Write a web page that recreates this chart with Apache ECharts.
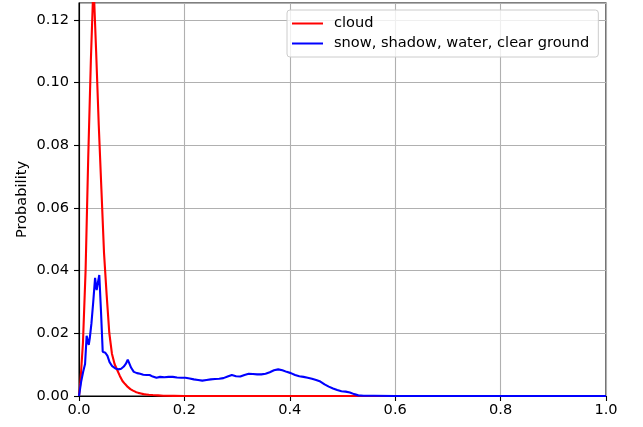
<!DOCTYPE html>
<html>
<head>
<meta charset="utf-8">
<script src="https://cdn.jsdelivr.net/npm/echarts@6/dist/echarts.min.js"></script>
<style>html,body{margin:0;padding:0;background:#fff}#c{width:643px;height:427px}</style>
</head>
<body>
<div id="c"></div>
<script>
const seriesNames = ['cloud', 'snow, shadow, water, clear ground'];
const redX = [0,0.0025,0.0075,0.0125,0.0175,0.0225,0.0275,0.0325,0.0375,0.0425,0.0475,0.0525,0.0575,0.0625,0.0675,0.0725,0.0775,0.0825,0.0875,0.0925,0.0975,0.1025,0.1075,0.1125,0.1175,0.1225,0.1275,0.1325,0.14,0.15,0.16,0.18,0.2,1.0];
const redY = [0,0.004,0.017,0.040,0.076,0.107,0.132,0.110,0.0864,0.066,0.0456,0.0322,0.0201,0.0135,0.0102,0.0083,0.0064,0.0048,0.0038,0.0029,0.0022,0.0017,0.0013,0.0010,0.0008,0.0006,0.0005,0.0004,0.0003,0.0002,0.0001,0.00005,0,0];
const blueX = [0,0.004,0.008,0.0115,0.0145,0.0165,0.0185,0.0205,0.0235,0.027,0.0305,0.0335,0.0365,0.0385,0.042,0.045,0.050,0.054,0.058,0.063,0.069,0.075,0.080,0.085,0.089,0.0925,0.0955,0.099,0.104,0.110,0.116,0.122,0.128,0.134,0.140,0.147,0.154,0.162,0.170,0.178,0.186,0.194,0.202,0.210,0.218,0.226,0.234,0.242,0.250,0.258,0.266,0.274,0.282,0.290,0.298,0.306,0.314,0.322,0.330,0.338,0.346,0.354,0.362,0.370,0.378,0.386,0.394,0.402,0.410,0.418,0.426,0.434,0.442,0.450,0.458,0.466,0.474,0.482,0.490,0.498,0.506,0.514,0.522,0.530,0.54,0.56,0.6,1.0];
const blueY = [0,0.0045,0.0078,0.0102,0.0192,0.0178,0.0163,0.0185,0.023,0.030,0.0377,0.0338,0.0368,0.0386,0.026,0.0141,0.0138,0.0128,0.0108,0.0095,0.0088,0.0085,0.0087,0.0094,0.0103,0.0116,0.0110,0.0090,0.0077,0.0073,0.0071,0.0068,0.0067,0.0067,0.0062,0.0058,0.0061,0.0060,0.0061,0.0061,0.0059,0.0058,0.0058,0.0056,0.0053,0.0051,0.0049,0.0051,0.0053,0.0054,0.0055,0.0057,0.0062,0.0067,0.0063,0.0062,0.0067,0.0071,0.0070,0.0069,0.0069,0.0071,0.0076,0.0082,0.0085,0.0082,0.0077,0.0073,0.0067,0.0063,0.0061,0.0058,0.0055,0.0051,0.0046,0.0037,0.0030,0.0024,0.0019,0.0015,0.0014,0.0011,0.0006,0.0002,0.0001,0.0001,0,0];
const xTicks = [0, 0.2, 0.4, 0.6, 0.8, 1.0];
const yTicks = [0, 0.02, 0.04, 0.06, 0.08, 0.10, 0.12];
const yTitle = 'Probability';

const FONT = 'DejaVu Sans';
const FS = 14.6;
const pair = (xs, ys) => xs.map((x, i) => [x, ys[i]]);
const chart = echarts.init(document.getElementById('c'), null, {renderer: 'canvas'});
chart.setOption({
  animation: false,
  backgroundColor: '#fff',
  grid: {left: 79, right: 37, top: 3, bottom: 31, show: true, borderColor: '#000', borderWidth: 1.1, backgroundColor: 'transparent'},
  legend: {
    orient: 'vertical', left: 287, top: 10,
    padding: [6, 9, 6, 5], itemGap: 5, itemWidth: 31, itemHeight: 2, icon: 'rect',
    backgroundColor: 'rgba(255,255,255,0.8)', borderColor: '#cccccc', borderWidth: 1, borderRadius: 3,
    textStyle: {fontFamily: FONT, fontSize: FS, color: '#000', padding: [0, 0, 0, 6], lineHeight: 15},
    data: seriesNames
  },
  xAxis: {
    type: 'value', min: 0, max: 1, interval: 0.2,
    axisLine: {lineStyle: {color: '#000', width: 1.1}},
    axisTick: {length: 5, lineStyle: {color: '#000', width: 1.1}},
    axisLabel: {margin: 7, fontFamily: FONT, fontSize: FS, color: '#000',
      formatter: v => xTicks.some(t => Math.abs(t - v) < 1e-9) ? v.toFixed(1) : ''},
    splitLine: {show: true, lineStyle: {color: '#b0b0b0', width: 1.1}}
  },
  yAxis: {
    type: 'value', min: 0, max: 0.1254, interval: 0.02,
    name: yTitle, nameLocation: 'middle', nameGap: 49, nameMoveOverlap: false,
    nameTextStyle: {fontFamily: FONT, fontSize: FS, color: '#000'},
    axisLine: {lineStyle: {color: '#000', width: 1.1}},
    axisTick: {length: 5, lineStyle: {color: '#000', width: 1.1}},
    axisLabel: {margin: 10, fontFamily: FONT, fontSize: FS, color: '#000', showMaxLabel: false,
      formatter: v => yTicks.some(t => Math.abs(t - v) < 1e-9) ? v.toFixed(2) : ''},
    splitLine: {show: true, lineStyle: {color: '#b0b0b0', width: 1.1}}
  },
  series: [
    {name: seriesNames[0], type: 'line', data: pair(redX, redY), symbol: 'none', clip: true,
     lineStyle: {color: '#ff0000', width: 2.1}, itemStyle: {color: '#ff0000'}},
    {name: seriesNames[1], type: 'line', data: pair(blueX, blueY), symbol: 'none', clip: true,
     lineStyle: {color: '#0000ff', width: 2.1}, itemStyle: {color: '#0000ff'}}
  ]
});
</script>
</body>
</html>
